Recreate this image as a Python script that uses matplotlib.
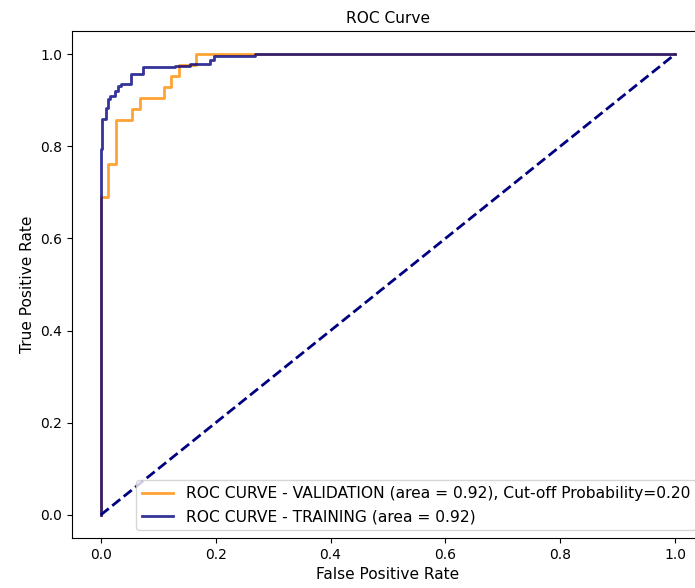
import numpy as np
import matplotlib
matplotlib.use("Agg")
from matplotlib import pyplot as plt

# validation ROC curve (step corners)
fpr_val = [0, 0, 0.013, 0.026, 0.054, 0.068, 0.110, 0.123, 0.136, 0.165, 1.0]
tpr_val = [0, 29/42, 32/42, 36/42, 37/42, 38/42, 39/42, 40/42, 41/42, 1.0, 1.0]

# training ROC curve (step corners)
fpr_train = [0, 0, 0.003, 0.009, 0.012, 0.016, 0.024, 0.030, 0.036, 0.052,
             0.074, 0.129, 0.155, 0.190, 0.198, 0.268, 1.0]
tpr_train = [0, 0.794, 0.859, 0.884, 0.902, 0.909, 0.920, 0.931, 0.934, 0.956,
             0.972, 0.975, 0.978, 0.988, 0.996, 1.0, 1.0]

auc_val = 0.92
auc_train = 0.92
cutoff = 0.20

fig = plt.figure(figsize=(6.95, 5.88), dpi=100)
ax = fig.add_axes([72/695, 50/588, 632/695, 507/588])

ax.plot(fpr_val, tpr_val, color='darkorange', lw=2, alpha=0.8, drawstyle='steps-post',
        label='ROC CURVE - VALIDATION (area = %0.2f), Cut-off Probability=%0.2f' % (auc_val, cutoff))
ax.plot(fpr_train, tpr_train, color='navy', lw=2, alpha=0.8, drawstyle='steps-post',
        label='ROC CURVE - TRAINING (area = %0.2f)' % auc_train)
ax.plot([0, 1], [0, 1], color='navy', lw=2, linestyle='--')

ax.set_xlabel('False Positive Rate', fontsize=11.1)
ax.set_ylabel('True Positive Rate', fontsize=11.1)
ax.set_title('ROC Curve', fontsize=11.1)
ax.tick_params(labelsize=10)
ax.legend(loc='lower right', fontsize=11.2)

fig.savefig('out.png', dpi=100)
